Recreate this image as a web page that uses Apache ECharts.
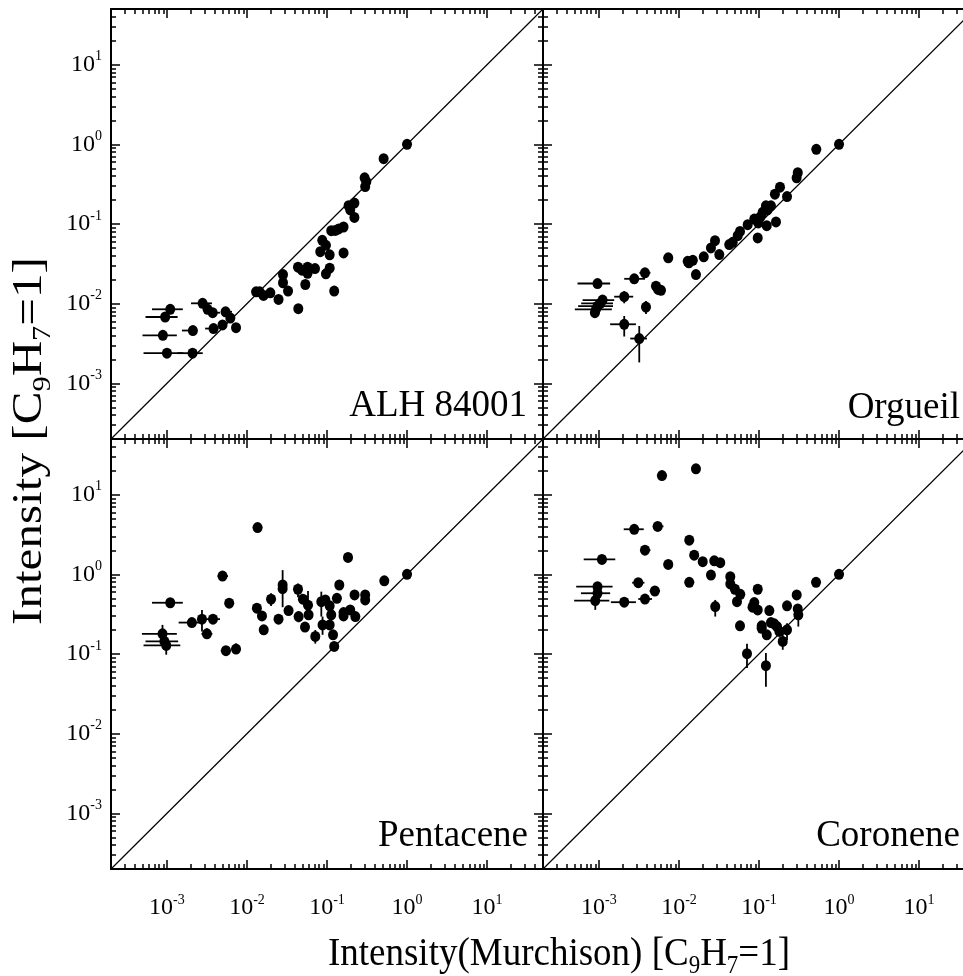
<!DOCTYPE html>
<html><head><meta charset="utf-8">
<script src="https://cdn.jsdelivr.net/npm/echarts@6/dist/echarts.min.js"></script>
<style>html,body{margin:0;padding:0;background:#fff;overflow:hidden}#c{width:963px;height:976px}</style>
</head><body><div id="c"></div>
<script>
// ---------- data ----------
const axisMin = 2e-4, axisMax = 50;
const majorExponents = [-3, -2, -1, 0, 1];
const panelNames = ['ALH 84001', 'Orgueil', 'Pentacene', 'Coronene'];
const xTitle = ['Intensity(Murchison) [C', '9', 'H', '7', '=1]'];
const yTitle = ['Intensity [C', '9', 'H', '7', '=1]'];
const diagonal = [axisMin, axisMax];

// [x, y]
const alhPoints = [[1.0,1.0],[0.51,0.66],[0.295,0.38],[0.31,0.34],[0.30,0.295],[0.186,0.17],[0.22,0.183],[0.195,0.151],[0.22,0.121],[0.113,0.0825],
 [0.127,0.083],[0.14,0.0866],[0.161,0.0917],[0.0873,0.0624],[0.097,0.054],[0.0824,0.045],[0.108,0.041],[0.161,0.0434],[0.108,0.0279],[0.097,0.0237],
 [0.123,0.0144],[0.0434,0.0287],[0.0487,0.0263],[0.0572,0.0287],[0.0572,0.024],[0.0708,0.0276],[0.0536,0.0174],[0.0282,0.0232],[0.0282,0.0183],[0.0326,0.0144],
 [0.0248,0.0113],[0.0438,0.00866],[0.013,0.0141],[0.0161,0.0127],[0.0196,0.0137],[0.0144,0.0141],[0.0011,0.0085],[0.00095,0.0068],[0.00089,0.0040],[0.001,0.00239],
 [0.00209,0.00239],[0.00211,0.0046],[0.00279,0.0101],[0.00322,0.0085],[0.00373,0.0077],[0.00382,0.00487],[0.00495,0.0054],[0.0054,0.0079],[0.0062,0.0066],[0.0073,0.0050]];
// [y, xLow, xHigh]
const alhXErr = [[0.0085,6.5e-4,1.58e-3],[0.0068,5.4e-4,1.36e-3],[0.0040,4.95e-4,1.33e-3],[0.00239,5.1e-4,1.6e-3],[0.00239,1.35e-3,2.8e-3],
 [0.0046,1.54e-3,2.37e-3],[0.0101,2.0e-3,3.65e-3],[0.0077,3.2e-3,4.6e-3],[0.00487,3.0e-3,4.4e-3],[0.0079,4.9e-3,6.5e-3]];
// [x, yLow, yHigh]
const alhYErr = [[0.001,0.0021,0.0027],[0.00089,0.0036,0.0044]];

const orgPoints = [[1.0,1.0],[0.52,0.866],[0.305,0.44],[0.295,0.38],[0.183,0.29],[0.158,0.237],[0.224,0.221],[0.141,0.169],[0.122,0.169],[0.128,0.151],
 [0.111,0.14],[0.104,0.122],[0.0873,0.1155],[0.098,0.103],[0.0722,0.098],[0.125,0.0953],[0.163,0.106],[0.0964,0.0668],[0.0579,0.0808],[0.0542,0.0714],
 [0.0469,0.0589],[0.0425,0.0551],[0.0282,0.0618],[0.0251,0.0501],[0.0319,0.0413],[0.0204,0.0387],[0.0163,0.0232],[0.01285,0.034],[0.0149,0.035],[0.0133,0.0326],
 [0.00735,0.0376],[0.00376,0.0244],[0.00276,0.0205],[0.00516,0.0166],[0.0055,0.0151],[0.00596,0.0147],[0.00096,0.0179],[0.00207,0.01224],[0.00387,0.00907],[0.00111,0.0111],
 [0.00104,0.0101],[0.00096,0.0093],[0.00092,0.0085],[0.00089,0.0077],[0.00207,0.00551],[0.00319,0.00365]];
const orgXErr = [[0.0179,5.4e-4,1.38e-3],[0.01224,1.55e-3,2.68e-3],[0.0205,2.07e-3,3.76e-3],[0.0244,3.2e-3,4.4e-3],[0.0111,6.25e-4,1.55e-3],
 [0.0101,6.0e-4,1.5e-3],[0.0093,5.5e-4,1.5e-3],[0.0085,5.0e-4,1.45e-3],[0.00551,1.38e-3,2.9e-3],[0.00365,2.46e-3,3.98e-3],
 [0.00907,3.4e-3,4.4e-3],[0.0376,6.4e-3,8.4e-3],[0.034,1.15e-2,1.45e-2]];
const orgYErr = [[0.00207,0.0101,0.01437],[0.00387,0.0074,0.0108],[0.00207,0.00387,0.0070],[0.00319,0.00183,0.00525],[0.00376,0.0215,0.0275],
 [0.00089,0.0067,0.0088],[0.224,0.2,0.245]];

const pentPoints = [[0.01357,3.87],[0.183,1.63],[1.0,1.0],[0.52,0.83],[0.00495,0.95],[0.0011,0.44],[0.006,0.434],[0.0279,0.735],[0.0279,0.66],[0.0434,0.65],
 [0.02,0.487],[0.0133,0.376],[0.0154,0.301],[0.0162,0.201],[0.0331,0.351],[0.0248,0.274],[0.0442,0.295],[0.05,0.487],[0.0579,0.41],[0.0589,0.31],
 [0.0531,0.2175],[0.0714,0.166],[0.0849,0.454],[0.0953,0.477],[0.108,0.402],[0.133,0.50],[0.1425,0.735],[0.113,0.31],[0.088,0.232],[0.108,0.232],
 [0.119,0.174],[0.123,0.1245],[0.161,0.331],[0.161,0.301],[0.195,0.358],[0.226,0.295],[0.221,0.551],[0.30,0.551],[0.30,0.477],[0.00205,0.248],
 [0.00274,0.274],[0.00376,0.274],[0.00316,0.179],[0.00088,0.179],[0.00093,0.1437],[0.00098,0.128],[0.00546,0.11],[0.0073,0.1155]];
const pentXErr = [[0.44,6.5e-4,1.58e-3],[0.179,4.87e-4,1.33e-3],[0.1437,5.4e-4,1.38e-3],[0.128,5.1e-4,1.47e-3],[0.248,1.4e-3,2.7e-3],
 [0.274,2.6e-3,4.6e-3],[0.95,4.3e-3,5.8e-3],[0.179,2.7e-3,3.7e-3],[0.434,5.3e-3,6.9e-3],[0.11,4.7e-3,6.3e-3],[0.1155,6.4e-3,8.3e-3],[3.87,0.0118,0.0155]];
const pentYErr = [[0.0279,0.387,1.13],[0.0434,0.516,0.77],[0.02,0.40,0.58],[0.0579,0.295,0.62],[0.0714,0.135,0.2],[0.0849,0.295,0.606],
 [0.088,0.174,0.295],[0.00274,0.191,0.358],[0.00316,0.155,0.21],[0.00088,0.144,0.232],[0.00098,0.098,0.128],[0.00546,0.095,0.125],
 [0.0073,0.1,0.135],[0.006,0.39,0.48],[0.0442,0.25,0.34]];

const coroPoints = [[0.0163,21.1],[0.00613,17.4],[0.00276,3.68],[0.00542,4.0],[0.00376,2.01],[0.00109,1.54],[0.00735,1.33],[0.01345,2.68],[0.0155,1.74],[0.0198,1.44],
 [0.0276,1.48],[0.0328,1.40],[0.0251,0.98],[0.01345,0.794],[0.0031,0.785],[0.005,0.618],[0.00376,0.49],[0.00207,0.447],[0.00096,0.70],[0.00096,0.579],
 [0.0009,0.468],[0.0438,0.933],[0.0438,0.757],[0.05,0.65],[0.0584,0.562],[0.0531,0.454],[0.0284,0.394],[0.0579,0.226],[0.0964,0.65],[0.0873,0.442],
 [0.083,0.387],[0.0964,0.358],[0.1346,0.351],[0.108,0.226],[0.108,0.21],[0.125,0.174],[0.141,0.248],[0.155,0.239],[0.168,0.221],[0.18,0.192],
 [0.224,0.402],[0.224,0.201],[0.198,0.1437],[0.296,0.551],[0.305,0.368],[0.31,0.31],[0.516,0.794],[1.0,1.0],[0.0708,0.101],[0.122,0.0714]];
const coroXErr = [[17.4,5.3e-3,7.1e-3],[3.68,2.04e-3,3.63e-3],[4.0,4.7e-3,6.4e-3],[2.01,3.3e-3,4.4e-3],[1.54,6.45e-4,1.6e-3],[1.33,6.4e-3,8.4e-3],
 [0.794,0.0118,0.0155],[0.785,2.6e-3,3.7e-3],[0.618,4.3e-3,5.8e-3],[0.49,3.1e-3,4.6e-3],[0.447,1.41e-3,2.9e-3],[0.70,5.2e-4,1.48e-3],
 [0.579,5.96e-4,1.38e-3],[0.468,4.9e-4,1.35e-3]];
const coroYErr = [[0.0708,0.0668,0.1345],[0.122,0.0387,0.103],[0.0284,0.295,0.477],[0.0009,0.358,0.58],[0.0438,0.85,1.05],[0.01345,2.4,2.95],
 [0.198,0.113,0.183],[0.224,0.15,0.244],[0.31,0.221,0.358]];

const panelPoints = [alhPoints, orgPoints, pentPoints, coroPoints];
const panelXErr = [alhXErr, orgXErr, pentXErr, coroXErr];
const panelYErr = [alhYErr, orgYErr, pentYErr, coroYErr];

// ---------- layout / style ----------
const FONT = 'Liberation Serif';
const grids = [
  {left: 111, top: 9, width: 432, height: 430},
  {left: 543, top: 9, width: 432, height: 430},
  {left: 111, top: 439, width: 432, height: 430},
  {left: 543, top: 439, width: 432, height: 430}
];
const LOG_LO = Math.log10(axisMin), LOG_HI = Math.log10(axisMax);
const majorTicks = majorExponents.slice();
const minorTicks = [];
for (let e = -4; e <= 1; e++) {
  for (let k = 2; k <= 9; k++) {
    const v = Math.log10(k) + e;
    if (v > LOG_LO + 1e-9 && v < LOG_HI - 1e-9) minorTicks.push(v);
  }
}
const labelRich = {
  b: {fontFamily: FONT, fontSize: 24, lineHeight: 30, color: '#000'},
  s: {fontFamily: FONT, fontSize: 14, lineHeight: 14, verticalAlign: 'top', color: '#000'}
};
function decoAxis(gi, pos, major, labels) {
  const isX = (pos === 'bottom' || pos === 'top');
  return {
    type: 'value', gridIndex: gi, position: pos, min: LOG_LO, max: LOG_HI,
    axisLine: {show: major, onZero: false, lineStyle: {color: '#000', width: 2}},
    axisTick: {show: true, inside: true, length: major ? 9 : 5, customValues: major ? majorTicks : minorTicks,
               lineStyle: {color: '#000', width: 1.5}},
    axisLabel: labels ? {show: true, customValues: majorTicks, margin: isX ? 24 : 9,
                formatter: v => '{b|10}{s|' + Math.round(v) + '}', rich: labelRich} : {show: false},
    splitLine: {show: false}, z: 5
  };
}
function dataAxis(gi) {
  return {type: 'log', logBase: 10, gridIndex: gi, min: axisMin, max: axisMax, show: false, splitLine: {show: false}};
}
const xAxes = [], yAxes = [];
grids.forEach((g, gi) => {
  xAxes.push(dataAxis(gi));
  xAxes.push(decoAxis(gi, 'bottom', true, gi >= 2));
  xAxes.push(decoAxis(gi, 'bottom', false, false));
  xAxes.push(decoAxis(gi, 'top', true, false));
  xAxes.push(decoAxis(gi, 'top', false, false));
  yAxes.push(dataAxis(gi));
  yAxes.push(decoAxis(gi, 'left', true, gi % 2 === 0));
  yAxes.push(decoAxis(gi, 'left', false, false));
  yAxes.push(decoAxis(gi, 'right', true, false));
  yAxes.push(decoAxis(gi, 'right', false, false));
});

function errSeries(gi, data, horizontal) {
  return {
    type: 'custom', xAxisIndex: gi * 5, yAxisIndex: gi * 5, data: data, silent: true, z: 3,
    encode: horizontal ? {x: [1, 2], y: 0} : {x: 0, y: [1, 2]},
    renderItem: function (params, api) {
      let p1, p2;
      if (horizontal) {
        p1 = api.coord([api.value(1), api.value(0)]);
        p2 = api.coord([api.value(2), api.value(0)]);
      } else {
        p1 = api.coord([api.value(0), api.value(1)]);
        p2 = api.coord([api.value(0), api.value(2)]);
      }
      return {type: 'line', shape: {x1: p1[0], y1: p1[1], x2: p2[0], y2: p2[1]},
              style: {stroke: '#000', lineWidth: 1.8}};
    }
  };
}
const series = [];
grids.forEach((g, gi) => {
  series.push({type: 'line', xAxisIndex: gi * 5, yAxisIndex: gi * 5, data: diagonal.map(v => [v, v]),
               symbol: 'none', silent: true, lineStyle: {color: '#000', width: 1.2}, z: 2});
  series.push(errSeries(gi, panelXErr[gi], true));
  series.push(errSeries(gi, panelYErr[gi], false));
  series.push({type: 'scatter', xAxisIndex: gi * 5, yAxisIndex: gi * 5, data: panelPoints[gi],
               symbol: 'circle', symbolSize: [10, 11], itemStyle: {color: '#000', opacity: 1}, silent: true, z: 4});
});

function makeRich(fs) {
  return {
    m: {fontFamily: FONT, fontSize: fs, lineHeight: Math.round(fs * 1.24), color: '#000'},
    s: {fontFamily: FONT, fontSize: Math.round(fs * 0.62), lineHeight: Math.round(fs * 0.6), verticalAlign: 'bottom', color: '#000'}
  };
}
function titleText(parts) {
  return '{m|' + parts[0] + '}{s|' + parts[1] + '}{m|' + parts[2] + '}{s|' + parts[3] + '}{m|' + parts[4] + '}';
}
const labelPos = [[527, 406], [960, 408], [528, 836], [960, 836]];
const graphics = panelNames.map((name, i) => ({
  type: 'text', x: labelPos[i][0], y: labelPos[i][1], z: 10,
  style: {text: name, fontFamily: FONT, fontSize: 37, fill: '#000', textAlign: 'right', textVerticalAlign: 'middle'}
}));
graphics.push({type: 'text', x: 559, y: 954, z: 10, scaleY: 1.1,
  style: {text: titleText(xTitle), rich: makeRich(37), textAlign: 'center', textVerticalAlign: 'middle', fill: '#000'}});
graphics.push({type: 'text', x: 30, y: 441, rotation: Math.PI / 2, scaleX: 1.17, z: 10,
  style: {text: titleText(yTitle), rich: makeRich(42), textAlign: 'center', textVerticalAlign: 'middle', fill: '#000'}});

const chart = echarts.init(document.getElementById('c'), null, {renderer: 'canvas'});
chart.setOption({
  animation: false,
  backgroundColor: '#fff',
  grid: grids.map(g => Object.assign({containLabel: false, outerBoundsMode: 'none'}, g)),
  xAxis: xAxes,
  yAxis: yAxes,
  series: series,
  graphic: graphics
});
</script></body></html>
